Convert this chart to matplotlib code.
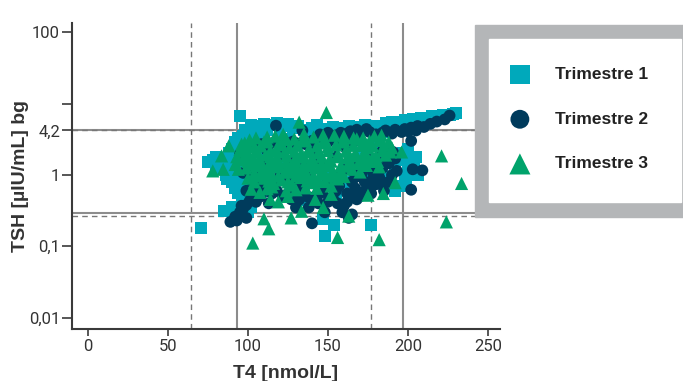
import matplotlib
matplotlib.use("Agg")
import matplotlib.pyplot as plt
from matplotlib.patches import Rectangle
from matplotlib.ticker import FixedLocator, NullLocator

# ---- data: T4 [nmol/L] vs TSH [µIU/mL] per trimester ----
t1_t4 = [95, 70.5, 230, 226, 219, 213, 208, 148, 154, 177, 147, 75, 82, 87,
         100, 104, 110, 114, 118, 122, 128, 135, 140, 146, 150, 156, 160, 166,
         170, 176, 182, 186, 190, 194, 198, 203, 196, 188,
         105, 112, 120, 125, 131, 138, 143, 153, 158, 163, 168, 173, 179, 184,
         200, 205, 210, 215, 222, 228, 98, 102, 108,
         78, 80, 84, 88, 90, 92, 94, 96, 86, 90, 92, 94, 96, 98, 95, 93, 100,
         98, 102, 100, 104, 97, 85, 90,
         80, 85, 88, 92, 94, 96, 91, 95, 89, 93, 97, 99, 100, 102,
         190, 197, 200, 202, 205, 198, 195, 202, 203, 184,
         192, 195, 200, 204, 206, 199, 192, 188,
         110, 120, 130, 140, 150, 160, 170, 115, 125, 135, 145, 155, 165, 175,
         180, 185, 108, 125, 145, 165, 175, 170]
t1_tsh = [6.8, 0.18, 7.4, 7.0, 6.6, 6.3, 6.2, 0.14, 0.2, 0.2, 0.24, 1.5, 1.4, 0.87,
          3.8, 4.6, 5.2, 5.0, 5.4, 4.8, 4.5, 4.3, 4.6, 4.0, 4.4, 4.2, 4.5, 4.0,
          4.7, 4.3, 4.8, 5.3, 5.5, 5.6, 5.9, 6.0, 4.5, 4.0,
          4.1, 4.3, 4.1, 5.1, 4.9, 4.0, 5.0, 4.7, 3.8, 4.9, 4.4, 5.0, 4.9, 4.5,
          5.1, 5.5, 5.9, 6.6, 6.9, 7.2, 4.2, 5.0, 4.8,
          1.6, 1.3, 1.2, 1.7, 2.3, 2.9, 3.3, 2.4, 1.0, 0.8, 0.65, 0.55, 0.45, 0.38,
          0.32, 0.28, 1.5, 1.1, 0.9, 0.7, 0.5, 3.5, 0.31, 0.36,
          1.8, 1.6, 2.0, 1.9, 2.6, 1.3, 1.05, 0.95, 1.3, 0.75, 0.6, 0.8, 0.3, 0.35,
          1.5, 2.0, 1.3, 1.5, 1.8, 0.9, 0.7, 1.78, 1.09, 0.97,
          1.2, 1.6, 2.3, 1.3, 1.0, 0.8, 0.6, 0.9,
          2.0, 1.5, 1.0, 2.5, 1.2, 0.8, 2.0, 0.6, 0.5, 0.45, 0.7, 0.5, 1.5, 1.1,
          2.6, 1.8, 3.0, 3.2, 3.0, 3.3, 0.6, 0.55]

t2_t4 = [223, 226, 202, 203, 209, 202, 193, 206, 140, 89, 93, 99, 96, 117.5,
         134, 146, 190.6, 183.5,
         158, 164, 170, 176, 180, 186, 192, 198, 202, 205,
         145, 150, 155, 162, 168, 174, 184, 190, 196, 200, 210, 214, 218,
         92, 95, 97, 99, 101, 103, 106, 109, 112, 116, 120, 124,
         95, 108.5, 117, 123, 103, 128, 96, 97, 102,
         100, 106, 114, 126, 136, 150, 158, 165,
         140, 145, 150, 155, 160, 159, 165, 170, 175, 178, 182, 180, 171, 165,
         160, 150, 135, 128, 130, 148, 168, 175, 186, 190, 185, 130, 140, 152,
         160, 170, 112, 120, 135, 110, 102, 155, 145, 125, 118, 138, 163,
         151, 159, 165, 168, 181, 127, 132.5,
         142, 147, 153, 157, 162, 167, 172, 177, 183, 188, 173, 168, 178, 184,
         188, 192, 180, 174, 162, 156, 144, 137, 132, 122, 115, 108, 105, 113,
         120, 128, 142, 150, 158, 166, 138, 126, 108, 104, 99]
t2_tsh = [6.0, 6.8, 3.0, 1.2, 1.16, 0.62, 1.14, 4.85, 0.21, 0.22, 0.23, 0.25,
          0.37, 4.9, 4.2, 3.4, 2.1, 2.1,
          3.9, 4.1, 3.8, 4.0, 3.7, 4.2, 4.3, 4.4, 4.6, 4.2,
          3.7, 3.9, 3.6, 3.8, 4.3, 4.4, 3.9, 3.8, 4.0, 4.1, 4.7, 5.2, 5.6,
          0.26, 0.3, 0.34, 0.38, 0.43, 0.5, 0.58, 0.66, 0.75, 0.82, 0.88, 0.95,
          1.96, 2.7, 2.9, 2.9, 2.63, 2.93, 1.9, 1.07, 0.85,
          2.4, 2.6, 2.75, 2.6, 2.7, 2.9, 3.1, 2.7,
          0.45, 0.55, 0.42, 0.6, 0.37, 0.3, 0.5, 0.5, 0.65, 0.87, 0.93, 0.74,
          1.02, 0.8, 1.2, 0.8, 0.6, 0.7, 0.35, 0.3, 1.5, 1.8, 1.6, 1.0, 0.6, 2.8,
          3.0, 3.2, 2.5, 3.0, 2.2, 1.1, 1.3, 1.5, 1.2, 1.8, 1.5, 0.55, 0.6, 0.35,
          0.25, 0.47, 0.37, 0.28, 0.455, 0.87, 0.455, 0.63,
          0.5, 0.62, 0.48, 0.7, 0.55, 0.65, 0.58, 0.55, 0.75, 0.8, 0.8, 0.95,
          1.1, 1.25, 1.45, 1.7, 1.4, 1.3, 0.42, 0.4, 0.4, 0.5, 0.45, 0.5, 0.55,
          0.5, 0.42, 0.4,
          1.9, 1.6, 2.1, 1.35, 1.0, 1.1, 0.95, 0.85, 0.95, 0.7, 0.6]

t3_t4 = [149, 132, 221, 233.5, 224, 182, 156, 103, 113, 110, 127, 133.5, 147,
         163, 175, 184.6, 192, 196, 183.5, 88, 83.5, 78, 84.5, 102, 107.5, 114,
         168, 179, 172, 152, 142, 189, 92, 97,
         122, 135, 147, 160, 112, 172, 188, 190, 186, 181,
         115, 130, 143, 104, 100, 94, 93, 96,
         105, 117, 129, 141, 154, 166, 176,
         101, 112, 124, 136, 148, 160, 172, 182,
         98, 110, 121, 134, 147, 159, 171,
         100, 108, 119, 131, 143, 155, 166, 178,
         95, 104, 114, 126, 138, 150, 162, 174, 185,
         97, 106, 118, 129, 139, 150, 161, 173, 184,
         100, 111, 123, 133, 144, 156, 167, 180,
         103, 114, 124, 135, 146, 157, 168, 178,
         97, 107, 118, 129, 140, 151, 162, 174,
         100, 108, 119, 130, 141, 152, 164, 176,
         102, 113, 124, 135, 146, 158, 169, 182,
         105, 116, 127, 138, 150, 162, 174,
         99, 109, 120, 131, 142, 153, 165,
         112, 123, 134, 146, 158, 170,
         104, 115, 126, 137, 148, 160,
         108, 119, 130, 141, 152,
         110, 121, 133, 144, 156,
         113, 125, 137, 148,
         116, 128, 140, 152,
         112, 124, 136, 125, 119]
t3_tsh = [7.5, 5.5, 1.85, 0.76, 0.22, 0.124, 0.133, 0.111, 0.176, 0.243, 0.25,
          0.31, 0.35, 0.265, 0.52, 0.55, 0.78, 2.1, 3.6, 2.56, 1.85, 1.14, 1.2,
          0.63, 0.57, 0.455, 3.2, 3.5, 1.58, 0.535, 0.455, 2.1, 1.4, 1.62,
          3.7, 3.75, 3.6, 3.5, 3.4, 3.3, 2.9, 2.4, 1.9, 1.55,
          0.68, 0.62, 0.65, 0.8, 0.9, 1.2, 1.8, 2.7,
          3.3, 3.5, 3.2, 3.4, 3.6, 3.3, 3.0,
          3.1, 3.0, 3.15, 3.05, 3.1, 3.0, 3.1, 3.05,
          2.8, 2.9, 2.7, 3.0, 2.8, 2.9, 2.6,
          2.6, 2.55, 2.65, 2.6, 2.55, 2.65, 2.6, 2.55,
          2.3, 2.5, 2.2, 2.4, 2.3, 2.5, 2.2, 2.4, 2.6,
          2.15, 2.1, 2.2, 2.15, 2.1, 2.2, 2.15, 2.1, 2.2,
          2.0, 1.9, 2.1, 1.95, 2.05, 1.9, 2.0, 1.85,
          1.8, 1.8, 1.85, 1.78, 1.82, 1.8, 1.85, 1.78,
          1.7, 1.65, 1.75, 1.6, 1.7, 1.65, 1.75, 1.6,
          1.55, 1.52, 1.57, 1.55, 1.52, 1.56, 1.54, 1.55,
          1.45, 1.4, 1.5, 1.4, 1.45, 1.35, 1.45, 1.3,
          1.35, 1.33, 1.36, 1.34, 1.35, 1.33, 1.36,
          1.25, 1.2, 1.3, 1.2, 1.25, 1.15, 1.2,
          1.12, 1.1, 1.13, 1.11, 1.12, 1.1,
          1.05, 1.0, 1.1, 1.0, 1.05, 0.95,
          0.97, 0.96, 0.98, 0.97, 0.96,
          0.9, 0.85, 0.92, 0.85, 0.88,
          0.82, 0.8, 0.83, 0.81,
          0.76, 0.72, 0.78, 0.7,
          0.64, 0.6, 0.66, 0.5, 0.42]

labels = ["Trimestre 1", "Trimestre 2", "Trimestre 3"]
colors = ["#00a9bb", "#003b5c", "#00a36b"]

# reference limits
t4_dashed = [64.2, 176.7]
t4_solid = [92.9, 197]
tsh_solid = [4.2, 0.29]
tsh_dashed = [4.2, 0.266]

yticks = [0.01, 0.1, 1, 4.2, 10, 100]
yticklabels = ["0,01", "0,1", "1", "4,2", "", "100"]
xticks = [0, 50, 100, 150, 200, 250]

fig = plt.figure(figsize=(6.83, 3.81), dpi=100)
ax = fig.add_axes([0.1054, 0.1357, 0.6266, 0.8047])

ax.set_yscale("log")
ax.set_xlim(-10, 257.5)
ax.set_ylim(0.00687, 136)

for v in t4_dashed:
    ax.axvline(v, color="#777777", lw=1.0, ls=(0, (4, 3)), zorder=1)
for v in t4_solid:
    ax.axvline(v, color="#8c8c8c", lw=1.5, zorder=1)
for v in tsh_solid:
    ax.axhline(v, color="#8c8c8c", lw=1.5, zorder=1)
for v in tsh_dashed:
    ax.axhline(v, color="#777777", lw=1.0, ls=(0, (4, 3)), zorder=1)

h1 = ax.scatter(t1_t4, t1_tsh, s=75, marker="s", color=colors[0],
                edgecolors="none", zorder=2)
h2 = ax.scatter(t2_t4, t2_tsh, s=72, marker="o", color=colors[1],
                edgecolors="none", zorder=3)
h3 = ax.scatter(t3_t4, t3_tsh, s=90, marker="^", color=colors[2],
                edgecolors="none", zorder=4)

for side in ["top", "right"]:
    ax.spines[side].set_visible(False)
for side in ["left", "bottom"]:
    ax.spines[side].set_color("#3a3a3a")
    ax.spines[side].set_linewidth(1.5)

ax.yaxis.set_major_locator(FixedLocator(yticks))
ax.yaxis.set_minor_locator(NullLocator())
ax.set_yticklabels(yticklabels)
ax.set_xticks(xticks)
ax.tick_params(axis="y", length=7.2, width=1.2, color="#3a3a3a", pad=1.4,
               labelsize=12, labelcolor="#333333")
ax.tick_params(axis="x", length=4.7, width=1.2, color="#3a3a3a", pad=2,
               labelsize=12, labelcolor="#333333")
for lab in ax.get_xticklabels() + ax.get_yticklabels():
    lab.set_family("Roboto")

ax.set_xlabel("T4 [nmol/L]", fontsize=14, fontweight="bold",
              family="Liberation Sans", color="#333333", va="top")
ax.xaxis.set_label_coords(0.5, -0.115)
ax.set_ylabel("TSH [µIU/mL] bg", fontsize=14, fontweight="bold",
              family="Liberation Sans", color="#333333")
ax.yaxis.set_label_coords(-0.1005, 0.5)

# legend box: grey frame with white panel
fig.patches.append(Rectangle((0.6955, 0.4312), 0.3045, 0.5031,
                             transform=fig.transFigure, color="#b4b6b8",
                             zorder=3))
fig.patches.append(Rectangle((0.7164, 0.4698), 0.2807, 0.4270,
                             transform=fig.transFigure, color="white",
                             zorder=4))
leg = fig.legend([h1, h2, h3], labels, loc="upper left",
                 bbox_to_anchor=(506 / 683, 1 - 67 / 381),
                 frameon=False, borderpad=0, borderaxespad=0,
                 handlelength=1.6, handletextpad=1.2, labelspacing=1.7,
                 markerscale=1.6,
                 prop={"family": "Liberation Sans", "weight": "bold",
                       "size": 12.5})
leg.set_zorder(5)
for t in leg.get_texts():
    t.set_color("#222222")

fig.savefig("out.png", dpi=100)
